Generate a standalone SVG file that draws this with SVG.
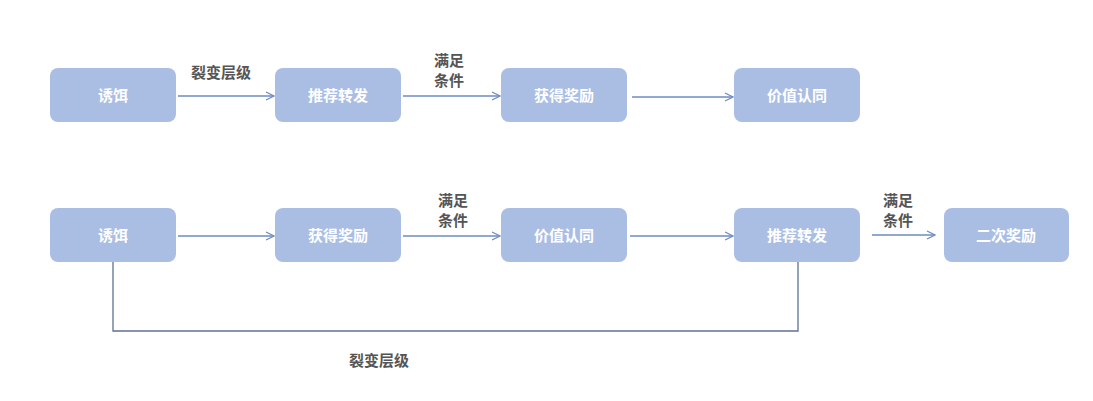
<svg xmlns="http://www.w3.org/2000/svg" width="1093" height="401" viewBox="0 0 1093 401">
<style>
.n{fill:#aabee4}
.t{font-family:"Noto Sans CJK SC","Noto Sans",sans-serif;font-size:15px;font-weight:bold;fill:#fff;text-anchor:middle}
.l{font-family:"Noto Sans CJK SC","Noto Sans",sans-serif;font-size:15px;font-weight:bold;fill:#555;text-anchor:middle}
.c{stroke:#6f8bc2;stroke-width:1.3;fill:none}
</style>
<defs>
<marker id="a" markerWidth="12" markerHeight="12" refX="10" refY="5" orient="auto" markerUnits="userSpaceOnUse">
<path d="M2,1 L10,5 L2,9" fill="none" stroke="#6f8bc2" stroke-width="1.3"/>
</marker>
</defs>
<rect width="1093" height="401" fill="#fff"/>
<g id="connectors">
<line class="c" x1="178" y1="96" x2="274" y2="96" marker-end="url(#a)"/>
<line class="c" x1="403" y1="96" x2="500" y2="96" marker-end="url(#a)"/>
<line class="c" x1="632" y1="97" x2="733" y2="97" marker-end="url(#a)"/>
<line class="c" x1="178" y1="236" x2="274" y2="236" marker-end="url(#a)"/>
<line class="c" x1="403" y1="236" x2="500" y2="236" marker-end="url(#a)"/>
<line class="c" x1="630" y1="236" x2="733" y2="236" marker-end="url(#a)"/>
<line class="c" x1="872" y1="235" x2="935" y2="235" marker-end="url(#a)"/>
<path d="M113,262 V331 H798 V262" fill="none" stroke="#5f7190" stroke-width="1.3"/>
<text class="l" x="221" y="78">裂变层级</text>
<text class="l" x="449" y="66">满足</text>
<text class="l" x="449" y="86">条件</text>
<text class="l" x="453" y="206">满足</text>
<text class="l" x="453" y="226">条件</text>
<text class="l" x="898" y="206">满足</text>
<text class="l" x="898" y="226">条件</text>
<text class="l" x="379" y="366">裂变层级</text>
</g>
<g id="n1"><rect class="n" x="50" y="68" width="126" height="54" rx="8"/><text class="t" x="113" y="101">诱饵</text></g>
<g id="n2"><rect class="n" x="275" y="68" width="126" height="54" rx="8"/><text class="t" x="338" y="101">推荐转发</text></g>
<g id="n3"><rect class="n" x="501" y="68" width="126" height="54" rx="8"/><text class="t" x="564" y="101">获得奖励</text></g>
<g id="n4"><rect class="n" x="734" y="68" width="126" height="54" rx="8"/><text class="t" x="797" y="101">价值认同</text></g>
<g id="m1"><rect class="n" x="50" y="208" width="126" height="54" rx="8"/><text class="t" x="113" y="241">诱饵</text></g>
<g id="m2"><rect class="n" x="275" y="208" width="126" height="54" rx="8"/><text class="t" x="338" y="241">获得奖励</text></g>
<g id="m3"><rect class="n" x="501" y="208" width="126" height="54" rx="8"/><text class="t" x="564" y="241">价值认同</text></g>
<g id="m4"><rect class="n" x="734" y="208" width="126" height="54" rx="8"/><text class="t" x="797" y="241">推荐转发</text></g>
<g id="m5"><rect class="n" x="944" y="208" width="125" height="54" rx="8"/><text class="t" x="1006" y="241">二次奖励</text></g>
</svg>
